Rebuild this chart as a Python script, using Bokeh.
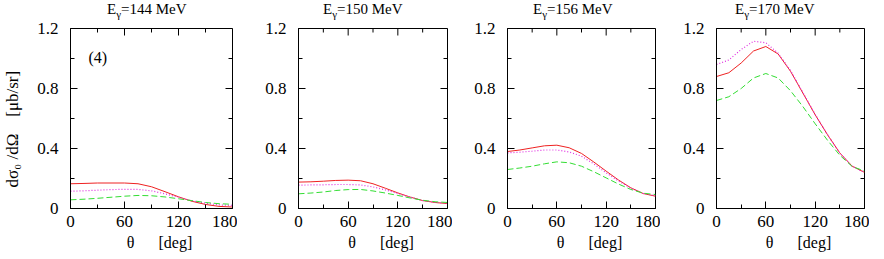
import math
from bokeh.plotting import figure
from bokeh.layouts import row, column
from bokeh.models import Range1d, FixedTicker, Label, Div
from bokeh.embed import file_html
from bokeh.resources import INLINE

# ---------------- data ----------------
theta = [0, 15, 30, 45, 60, 75, 90, 105, 120, 135, 150, 165, 180]

energies = ["144", "150", "156", "170"]

red_144 = [0.165, 0.167, 0.170, 0.170, 0.170, 0.165, 0.145, 0.112, 0.078, 0.048, 0.027, 0.014, 0.010]
mag_144 = [0.115, 0.118, 0.122, 0.126, 0.128, 0.127, 0.118, 0.098, 0.075, 0.052, 0.035, 0.024, 0.020]
grn_144 = [0.058, 0.062, 0.068, 0.075, 0.082, 0.087, 0.085, 0.077, 0.065, 0.052, 0.040, 0.032, 0.028]

red_150 = [0.176, 0.178, 0.182, 0.187, 0.189, 0.185, 0.165, 0.135, 0.104, 0.076, 0.053, 0.040, 0.033]
mag_150 = [0.156, 0.157, 0.158, 0.160, 0.160, 0.157, 0.144, 0.124, 0.100, 0.075, 0.053, 0.041, 0.035]
grn_150 = [0.098, 0.103, 0.110, 0.120, 0.126, 0.127, 0.117, 0.103, 0.087, 0.070, 0.055, 0.045, 0.040]

red_156 = [0.380, 0.390, 0.404, 0.418, 0.422, 0.405, 0.367, 0.310, 0.249, 0.190, 0.138, 0.100, 0.082]
mag_156 = [0.371, 0.375, 0.382, 0.390, 0.390, 0.377, 0.349, 0.297, 0.238, 0.183, 0.136, 0.100, 0.085]
grn_156 = [0.260, 0.270, 0.282, 0.298, 0.311, 0.305, 0.282, 0.245, 0.204, 0.163, 0.127, 0.102, 0.093]

red_170 = [0.880, 0.905, 0.970, 1.050, 1.080, 1.030, 0.915, 0.770, 0.625, 0.492, 0.370, 0.282, 0.241]
mag_170 = [0.960, 0.990, 1.060, 1.115, 1.105, 1.035, 0.920, 0.774, 0.627, 0.492, 0.370, 0.282, 0.241]
grn_170 = [0.720, 0.745, 0.800, 0.870, 0.900, 0.870, 0.785, 0.680, 0.565, 0.455, 0.355, 0.280, 0.250]

series = [
    (red_144, mag_144, grn_144),
    (red_150, mag_150, grn_150),
    (red_156, mag_156, grn_156),
    (red_170, mag_170, grn_170),
]

x_major = [0, 60, 120, 180]
x_minor = [30, 90, 150]
y_major = [0, 0.4, 0.8, 1.2]
y_minor = [0.2, 0.6, 1.0]
y_tick_labels = {0: "0", 0.4: "0.4", 0.8: "0.8", 1.2: "1.2"}

# ---------------- layout ----------------
FONT = "Liberation Serif"
NB = "\u00a0"
frame_widths = [162, 149, 148, 148]
left_borders = [69, 61, 55, 56]
title_left = [107, 86, 81, 75]  # px from figure left
FRAME_H = 180

RED = "#ee2222"
MAG = "#e030e0"
GRN = "#33dd33"

cols = []
for i in range(4):
    fw = frame_widths[i]
    p = figure(frame_width=fw, frame_height=FRAME_H,
               x_range=Range1d(0, 180), y_range=Range1d(0, 1.2),
               output_backend="svg", toolbar_location=None,
               min_border_left=left_borders[i], min_border_right=5,
               min_border_top=8, min_border_bottom=0,
               background_fill_color="white", border_fill_color="white")
    p.outline_line_color = "black"
    p.outline_line_width = 1
    p.xgrid.visible = False
    p.ygrid.visible = False

    xa = p.xaxis[0]
    xa.ticker = FixedTicker(ticks=x_major, minor_ticks=x_minor)
    xa.major_tick_in = 7
    xa.major_tick_out = 0
    xa.minor_tick_in = 4
    xa.minor_tick_out = 0
    xa.axis_line_color = "black"
    xa.major_tick_line_color = "black"
    xa.minor_tick_line_color = "black"
    xa.major_label_text_font = FONT
    xa.major_label_text_font_size = "17px"
    xa.major_label_text_color = "black"
    xa.major_label_standoff = 7
    xa.axis_label = NB * 4 + "θ" + NB * 6 + "[deg]"
    xa.axis_label_text_font = FONT
    xa.axis_label_text_font_size = "16px"
    xa.axis_label_text_font_style = "normal"
    xa.axis_label_text_color = "black"
    xa.axis_label_standoff = 4

    ya = p.yaxis[0]
    ya.ticker = FixedTicker(ticks=y_major, minor_ticks=y_minor)
    ya.major_label_overrides = y_tick_labels
    ya.major_tick_in = 7
    ya.major_tick_out = 0
    ya.minor_tick_in = 4
    ya.minor_tick_out = 0
    ya.axis_line_color = "black"
    ya.major_tick_line_color = "black"
    ya.minor_tick_line_color = "black"
    ya.major_label_text_font = FONT
    ya.major_label_text_font_size = "17px"
    ya.major_label_text_color = "black"
    ya.major_label_standoff = 12
    if i == 0:
        ya.axis_label = "dσ₀ /dΩ" + NB * 4 + "[μb/sr]" + NB * 5
        ya.axis_label_text_font = FONT
        ya.axis_label_text_font_size = "17px"
        ya.axis_label_text_font_style = "normal"
        ya.axis_label_text_color = "black"
        ya.axis_label_standoff = 12

    # mirrored inward ticks on top and right sides
    p.ray(x=x_major, y=[1.2] * 4, length=7, angle=-math.pi / 2,
          length_units="screen", line_color="black", line_width=1)
    p.ray(x=x_minor, y=[1.2] * 3, length=4, angle=-math.pi / 2,
          length_units="screen", line_color="black", line_width=1)
    p.ray(x=[180] * 4, y=y_major, length=7, angle=math.pi,
          length_units="screen", line_color="black", line_width=1)
    p.ray(x=[180] * 3, y=y_minor, length=4, angle=math.pi,
          length_units="screen", line_color="black", line_width=1)

    red, mag, grn = series[i]
    p.line(theta, red, line_color=RED, line_width=1)
    p.line(theta, mag, line_color=MAG, line_width=1.2, line_dash="1 2")
    p.line(theta, grn, line_color=GRN, line_width=1, line_dash="6 3")

    if i == 0:
        dpp = 180.0 / fw
        p.add_layout(Label(x=18 * dpp, y=1.2 - 28.5 / 150, text="(4)",
                           text_font=FONT, text_font_size="16px", text_color="black",
                           text_align="left", text_baseline="middle"))

    fig_w = left_borders[i] + fw + 5
    title = Div(
        text=('<div style="padding-left:%dpx; padding-top:1px; font-family:\'Liberation Serif\', serif; '
              'font-size:15px; line-height:17px; white-space:nowrap; color:black;">'
              'E<sub style="font-size:11px; line-height:0; vertical-align:-4px;">γ</sub>=%s MeV</div>')
             % (title_left[i], energies[i]),
        width=fig_w, height=20, styles={"margin": "0px"})
    cols.append(column(title, p, spacing=0))

layout = row(*cols, spacing=0)
open("out.html", "w").write(file_html(layout, INLINE))
